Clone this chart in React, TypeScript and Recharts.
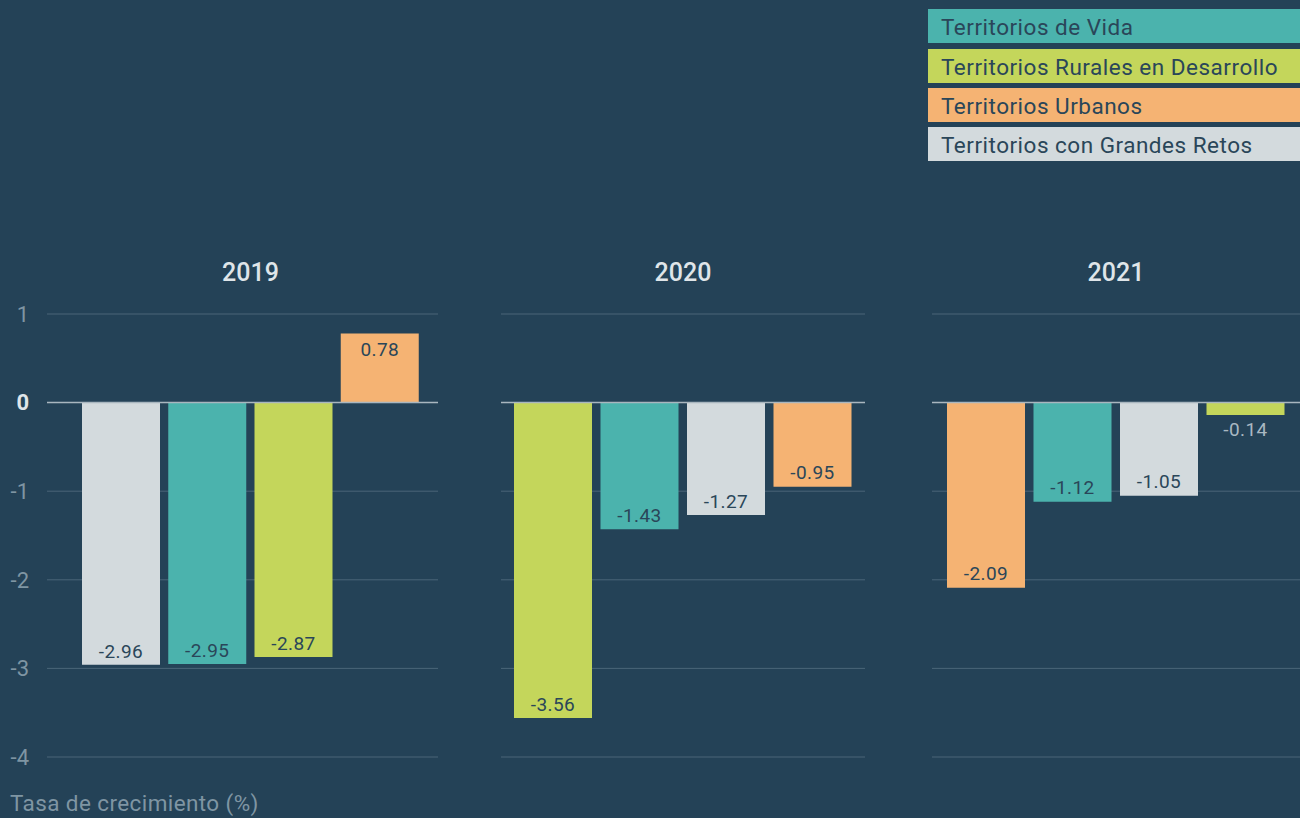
import { BarChart, Bar, XAxis, YAxis, CartesianGrid, ReferenceLine, Cell, LabelList } from "recharts";

const SERIES = [
  "Territorios de Vida",
  "Territorios Rurales en Desarrollo",
  "Territorios Urbanos",
  "Territorios con Grandes Retos",
];

const YEARS = ["2019", "2020", "2021"];

const ORDER_2019 = ["Territorios con Grandes Retos", "Territorios de Vida", "Territorios Rurales en Desarrollo", "Territorios Urbanos"];
const VALUES_2019 = [-2.96, -2.95, -2.87, 0.78];

const ORDER_2020 = ["Territorios Rurales en Desarrollo", "Territorios de Vida", "Territorios con Grandes Retos", "Territorios Urbanos"];
const VALUES_2020 = [-3.56, -1.43, -1.27, -0.95];

const ORDER_2021 = ["Territorios Urbanos", "Territorios de Vida", "Territorios con Grandes Retos", "Territorios Rurales en Desarrollo"];
const VALUES_2021 = [-2.09, -1.12, -1.05, -0.14];

const Y_TICKS = [-4, -3, -2, -1, 0, 1];
const Y_TITLE = "Tasa de crecimiento (%)";

const COLORS: Record<string, string> = {
  "Territorios de Vida": "#4bb3ad",
  "Territorios Rurales en Desarrollo": "#c4d65b",
  "Territorios Urbanos": "#f5b373",
  "Territorios con Grandes Retos": "#d3dadd",
};

const BG = "#244257";
const DARK_TEXT = "#2a4659";
const FONT = "Roboto, 'Noto Sans', sans-serif";

const build = (order: string[], values: number[]) =>
  order.map((name, i) => ({ name, value: values[i] }));

const PANELS = [
  { year: YEARS[0], data: build(ORDER_2019, VALUES_2019), left: 0, width: 438, axis: 47, pad: { left: 31, right: 15 } },
  { year: YEARS[1], data: build(ORDER_2020, VALUES_2020), left: 501, width: 364, axis: 0, pad: { left: 9, right: 9 } },
  { year: YEARS[2], data: build(ORDER_2021, VALUES_2021), left: 932, width: 368, axis: 0, pad: { left: 11, right: 11 } },
];

const TOP = 300;
const HEIGHT = 470;
const MARGIN = { top: 14, right: 0, bottom: 13, left: 0 };

function BarLabel(props: any) {
  const { x, y, width, height, value } = props;
  const top = Math.min(y, y + height);
  const bottom = Math.max(y, y + height);
  const size = bottom - top;
  const cx = x + width / 2;
  let cy: number;
  let fill = DARK_TEXT;
  if (size >= 30) {
    cy = value < 0 ? bottom - 14 : top + 16;
  } else {
    cy = value < 0 ? bottom + 14 : top - 14;
    fill = "#a9b8c2";
  }
  return (
    <text
      x={cx}
      y={cy}
      dy="0.35em"
      textAnchor="middle"
      fill={fill}
      fontSize={19}
      letterSpacing={0.4}
      fontFamily={FONT}
    >
      {value.toFixed(2)}
    </text>
  );
}

function YTick(props: any) {
  const { y, payload } = props;
  const zero = payload.value === 0;
  return (
    <text
      x={29}
      y={y}
      dy="0.35em"
      textAnchor="end"
      fontSize={22}
      fontFamily={FONT}
      fontWeight={zero ? 700 : 400}
      fill={zero ? "#dfe5e9" : "#7f95a3"}
    >
      {payload.value}
    </text>
  );
}

function Panel({ panel }: { panel: (typeof PANELS)[number] }) {
  const barsLeft = panel.axis + panel.pad.left;
  const barsWidth = panel.width - panel.axis - panel.pad.left - panel.pad.right;
  return (
    <>
      <div
        style={{
          position: "absolute",
          left: panel.left + barsLeft,
          width: barsWidth,
          top: 258,
          lineHeight: "30px",
          textAlign: "center",
          color: "#dfe5e9",
          fontWeight: 500,
          fontSize: 25,
          fontFamily: FONT,
        }}
      >
        {panel.year}
      </div>
      <div style={{ position: "absolute", left: panel.left, top: TOP }}>
        <BarChart width={panel.width} height={HEIGHT} data={panel.data} margin={MARGIN} barSize={78}>
          <CartesianGrid vertical={false} stroke="#4a6578" strokeWidth={1} />
          <XAxis dataKey="name" hide padding={panel.pad} />
          {panel.axis > 0 ? (
            <YAxis
              domain={[-4, 1]}
              ticks={Y_TICKS}
              width={panel.axis}
              axisLine={false}
              tickLine={false}
              tick={<YTick />}
            />
          ) : (
            <YAxis domain={[-4, 1]} ticks={Y_TICKS} hide />
          )}
          <ReferenceLine y={0} stroke="#a9b6bf" strokeWidth={1.5} />
          <Bar dataKey="value" isAnimationActive={false}>
            {panel.data.map((d) => (
              <Cell key={d.name} fill={COLORS[d.name]} />
            ))}
            <LabelList dataKey="value" content={<BarLabel />} />
          </Bar>
        </BarChart>
      </div>
    </>
  );
}

export default function App() {
  return (
    <div
      style={{
        position: "absolute",
        left: 0,
        top: 0,
        width: 1300,
        height: 818,
        background: BG,
        overflow: "hidden",
        fontFamily: FONT,
      }}
    >
      <div style={{ position: "absolute", left: 928, top: 9, width: 372 }}>
        {SERIES.map((s, i) => (
          <div
            key={s}
            style={{
              background: COLORS[s],
              height: 34,
              marginBottom: i === 0 ? 6 : 5,
              paddingLeft: 13,
              lineHeight: "37px",
              fontSize: 22.5,
              letterSpacing: 0.5,
              color: DARK_TEXT,
              whiteSpace: "nowrap",
            }}
          >
            {s}
          </div>
        ))}
      </div>
      {PANELS.map((p) => (
        <Panel key={p.year} panel={p} />
      ))}
      <div
        style={{
          position: "absolute",
          left: 10,
          top: 788,
          fontSize: 22.5,
          letterSpacing: 0.4,
          color: "#7f95a3",
          lineHeight: "30px",
          whiteSpace: "nowrap",
        }}
      >
        {Y_TITLE}
      </div>
    </div>
  );
}
